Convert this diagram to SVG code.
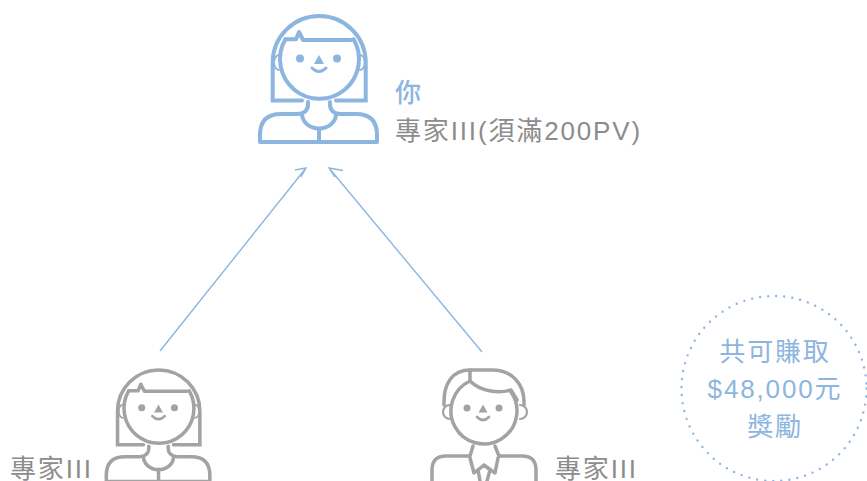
<svg xmlns="http://www.w3.org/2000/svg" width="867" height="481" viewBox="0 0 867 481">
<style>
text{font-family:"Liberation Sans","Noto Sans CJK TC",sans-serif;font-size:26px;letter-spacing:1.85px}
.g{fill:#8c8c8c}.b{fill:#8cb5e0}
.m{font-weight:500}
.ic{fill:none;stroke-width:4;stroke-linejoin:round;stroke-linecap:round}
.ic .hair{stroke-linejoin:miter}
.ic .fine{stroke-width:2}
.ic .smile{stroke-width:3}
.dot{fill:none;stroke:#8cb5e0;stroke-width:2.4;stroke-linecap:round;stroke-dasharray:0 8.1}
.c{fill:none;stroke:#8cb5e0;stroke-width:1.4}
#node-right{stroke-width:3.5}
#node-right .fine{stroke-width:2.2}
#node-right .smile{stroke-width:2.6}
</style>
<defs>
<g id="woman" class="ic">
<path class="hair" d="M302 100.500H272.700V62.500a46.500 46.500 0 0 1 93 0V100.500H336"/>
<path d="M285.400 39.300A39.500 39.500 0 1 0 353.600 39.300"/>
<path d="M285.400 39.300H296L299 32L303 40H351"/>
<path class="fine" d="M279 55a5 7.500 0 0 0 0 15M360 55a5 7.500 0 0 1 0 15"/>
<circle cx="300" cy="58.500" r="4" fill="currentColor" stroke="none"/>
<circle cx="337" cy="58.500" r="4" fill="currentColor" stroke="none"/>
<path d="M319 55l-5 9h10z" style="fill:currentColor;stroke:none"/>
<path class="smile" d="M312 68q7 7 14 0"/>
<path d="M308 102q1 11-10 12H281q-21 0-21 21V142H377V135q0-21-21-21H340q-11-1-10-12"/>
<path d="M302 114a17 14.500 0 0 0 34 0M319 128.500V142"/>
</g>
</defs>
<g id="connectors">
<path class="c" d="M160 351L306 168M295 170L306 168L301 177M482 352L329 168M343 170.500L329 168L335 177"/>
</g>
<g id="node-you" color="#8cb5e0" stroke="#8cb5e0">
<use href="#woman"/>
<text class="b m" x="395" y="102" stroke="none">你</text>
<text class="g" x="395" y="140" stroke="none">專家III(須滿200PV)</text>
</g>
<g id="node-left" color="#a3a3a3" stroke="#a3a3a3">
<use href="#woman" transform="translate(158.700 368.300) scale(.885) translate(-319.200 -14)"/>
<text class="g" x="10" y="478" stroke="none">專家III</text>
</g>
<g id="node-right" class="ic" stroke="#a3a3a3">
<path d="M444 405V402C444 384 452 370 470 370H492C512 370 524 384 524 402V405"/>
<path d="M470 370V381A33 33 0 1 0 511 392"/>
<path d="M470 381C480 391 498 394 511 390L517 400"/>
<path class="fine" d="M450 405a7 7 0 0 0 0 14M520 405a7 7 0 0 1 0 14"/>
<circle cx="467" cy="408" r="3.500" style="fill:#a3a3a3;stroke:none"/>
<circle cx="499" cy="408" r="3.500" style="fill:#a3a3a3;stroke:none"/>
<path d="M483 404.500l-4.500 8h9z" style="fill:#a3a3a3;stroke:none"/>
<path class="smile" d="M477 417q6 6 12 0"/>
<path d="M473 446L470 456H446Q432 456 432 470V481M495 446L499 456H522Q536 456 536 470V481"/>
<path d="M470 458L474 473L484 465L495 473L498 458M478 470L484 465L490 470L487 481M480 481L478 470"/>
<text class="g" x="555" y="478" style="stroke:none">專家III</text>
</g>
<g id="node-reward">
<circle class="dot" cx="774" cy="388.500" r="92.500"/>
<text class="b" x="775" y="361" text-anchor="middle">共可賺取</text>
<text class="b" x="775" y="398" text-anchor="middle">$48,000元</text>
<text class="b" x="775" y="436" text-anchor="middle">獎勵</text>
</g>
</svg>
